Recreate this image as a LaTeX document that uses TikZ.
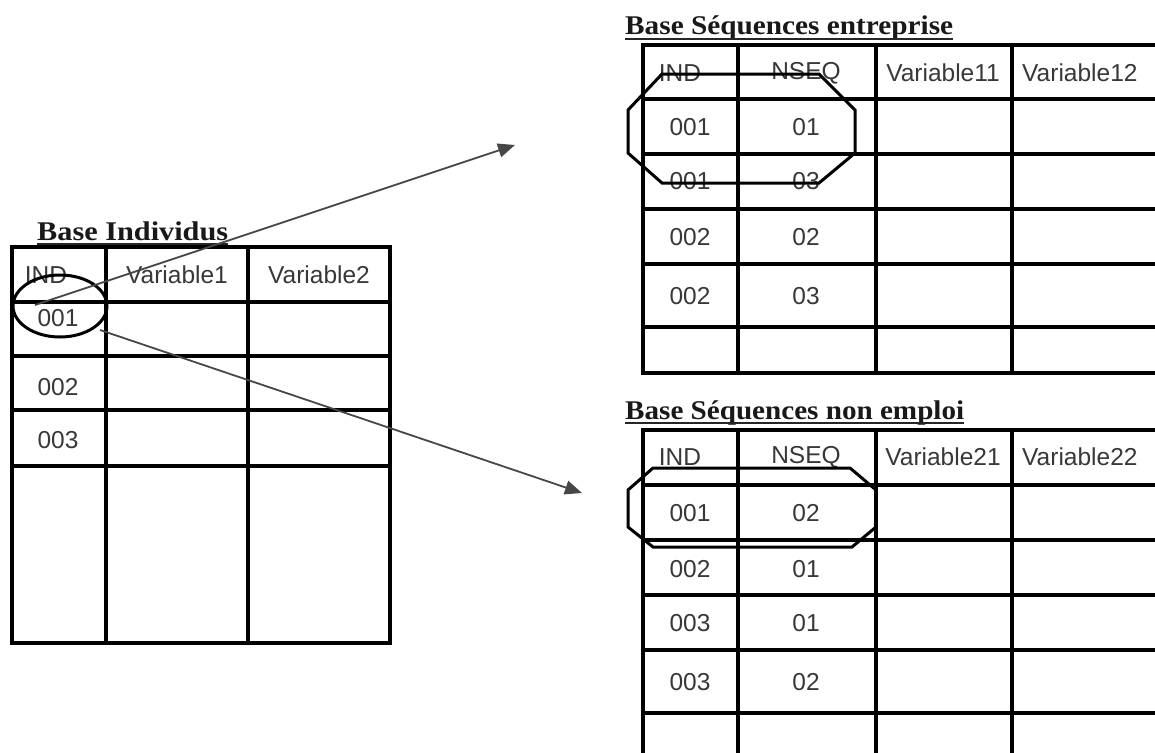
\documentclass[tikz,border=0pt]{standalone}
\usepackage{fontspec}
\setmainfont{Liberation Serif}
\newfontfamily\cellfont{Liberation Sans}
\usepackage{graphicx}
\usetikzlibrary{arrows.meta}
\begin{document}
\begin{tikzpicture}[x=1pt,y=-1pt,
  grid/.style={line width=3.1pt, line cap=rect, draw=black},
  cell/.style={font=\cellfont\fontsize{24.5}{29}\selectfont, text=black!78, inner sep=0pt},
  ttl/.style={font=\bfseries\fontsize{27}{31}\selectfont, inner sep=0pt, anchor=base west, text=black!90},
  ul/.style={line width=2.4pt, draw=black!85},
  ring/.style={line width=3pt, draw=black},
  link/.style={line width=1.8pt, draw=black!72, -{Triangle[length=17pt,width=14pt]}}
]
\clip (0,0) rectangle (1155,752);
\fill[white] (0,0) rectangle (1155,752);

% ---------- Base Individus ----------
\node[ttl] (t0) at (37,240) {\resizebox{191pt}{\height}{Base Individus}};
\draw[ul] ([yshift=-4pt]t0.base west) -- ([yshift=-4pt]t0.base east);
\draw[grid] (12,247) rectangle (390,643);
\foreach \x in {106,248} \draw[grid] (\x,247) -- (\x,643);
\foreach \y in {302,356,410,466} \draw[grid] (12,\y) -- (390,\y);
\node[cell] (l11) at (46,275) {IND};
\node[cell] (l12) at (177,275) {Variable1};
\node[cell] (l13) at (319,275) {Variable2};
\node[cell] (l21) at (58,318) {001};
\node[cell] (l31) at (58,387) {002};
\node[cell] (l41) at (58,440) {003};

% ---------- Base Sequences entreprise ----------
\node[ttl] (t1) at (625,35) {\resizebox{328pt}{\height}{Base Séquences entreprise}};
\draw[ul] ([yshift=-4pt]t1.base west) -- ([yshift=-4pt]t1.base east);
\draw[grid] (1170,45) -- (643,45) -- (643,373) -- (1170,373);
\foreach \x in {738,876,1012} \draw[grid] (\x,45) -- (\x,373);
\foreach \y in {99,154,209,264,327} \draw[grid] (643,\y) -- (1170,\y);
\node[cell] (e01) at (680,73) {IND};
\node[cell] (e02) at (806,73) {NSEQ};
\node[cell] (e03) at (943,73) {Variable11};
\node[cell,anchor=west] (e04) at (1022,73) {Variable12};
\node[cell] (e11) at (690,127) {001};
\node[cell] (e12) at (806,127) {01};
\node[cell] (e21) at (690,181) {001};
\node[cell] (e22) at (806,181) {03};
\node[cell] (e31) at (690,237) {002};
\node[cell] (e32) at (806,237) {02};
\node[cell] (e41) at (690,296) {002};
\node[cell] (e42) at (806,296) {03};
\draw[ring] (662,74) -- (819,74) -- (855,110) -- (855,153) -- (819,183)
  -- (662,183) -- (628,153) -- (628,110) -- cycle;

% ---------- Base Sequences non emploi ----------
\node[ttl] (t2) at (625,419) {\resizebox{339pt}{\height}{Base Séquences non emploi}};
\draw[ul] ([yshift=-4pt]t2.base west) -- ([yshift=-4pt]t2.base east);
\draw[grid] (1170,430) -- (643,430) -- (643,770);
\foreach \x in {738,876,1012} \draw[grid] (\x,430) -- (\x,770);
\foreach \y in {485,540,595,650,713} \draw[grid] (643,\y) -- (1170,\y);
\node[cell] (n01) at (680,457) {IND};
\node[cell] (n02) at (806,457) {NSEQ};
\node[cell] (n03) at (943,457) {Variable21};
\node[cell,anchor=west] (n04) at (1022,457) {Variable22};
\node[cell] (n11) at (690,513) {001};
\node[cell] (n12) at (806,513) {02};
\node[cell] (n21) at (690,569) {002};
\node[cell] (n22) at (806,569) {01};
\node[cell] (n31) at (690,623) {003};
\node[cell] (n32) at (806,623) {01};
\node[cell] (n41) at (690,682) {003};
\node[cell] (n42) at (806,682) {02};
\draw[ring] (653,468) -- (850,468) -- (876,490) -- (876,527) -- (852,547)
  -- (653,547) -- (628,527) -- (628,490) -- cycle;

% ---------- selection and links ----------
\draw[ring] (60,306) ellipse [x radius=47pt, y radius=31pt];
\coordinate (s1) at (35,305);
\coordinate (s2) at (100,330);
\coordinate (d1) at (515,145);
\coordinate (d2) at (582,493);
\draw[link] (s1) -- (d1);
\draw[link] (s2) -- (d2);
\end{tikzpicture}
\end{document}
